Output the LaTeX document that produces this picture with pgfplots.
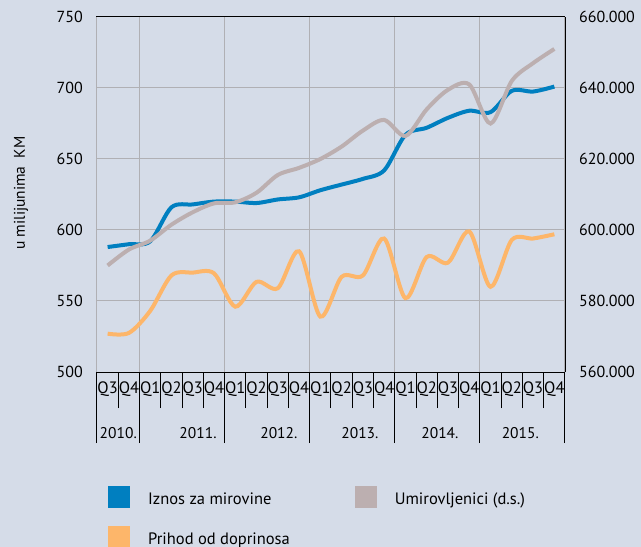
\documentclass[border=0pt]{standalone}
\usepackage{pgfplots}
\pgfplotsset{compat=1.18}
\usepackage{fontspec}
\setmainfont{PT Sans}
\definecolor{bgc}{RGB}{213,220,232}
\definecolor{cblue}{RGB}{0,127,192}
\definecolor{cgray}{RGB}{188,175,176}
\definecolor{corange}{RGB}{253,182,106}
\definecolor{cgrid}{RGB}{176,176,180}
\begin{document}
\begin{tikzpicture}[x=1pt,y=1pt]
\fill[bgc] (0,0) rectangle (641,547);
\useasboundingbox (0,0) rectangle (641,547);
\begin{axis}[
  at={(97pt,175pt)}, anchor=south west,
  width=468pt, height=355pt, scale only axis,
  clip=false,
  xmin=0, xmax=22, ymin=500, ymax=750,
  axis line style={black, line width=1pt},
  ytick={500,550,...,750},
  ymajorgrids, grid style={cgrid, line width=1pt},
  ytick style={draw=none},
  tick pos=left,
  tick align=outside,
  xtick={0.5,1.5,...,21.5},
  xticklabels={Q3,Q4,Q1,Q2,Q3,Q4,Q1,Q2,Q3,Q4,Q1,Q2,Q3,Q4,Q1,Q2,Q3,Q4,Q1,Q2,Q3,Q4},
  major tick length=0pt,
  minor xtick={1,3,4,5,7,8,9,11,12,13,15,16,17,19,20,21},
  minor tick length=36pt,
  minor x tick style={black, line width=1pt},
  extra x ticks={0,2,6,10,14,18,22},
  extra x tick labels={},
  extra x tick style={grid=major, major tick length=71pt, tick style={black, line width=1pt}},
  xticklabel style={font=\fontsize{16.5}{19}\selectfont, inner sep=0pt, yshift=-10pt},
  yticklabel style={font=\fontsize{16}{19}\selectfont, inner sep=0pt, xshift=-14pt},
  /pgf/number format/assume math mode=true,
]
\addplot[cblue, line width=4pt, smooth, tension=0.5] coordinates {
(0.5,588) (1.5,590) (2.5,592) (3.5,616) (4.5,618) (5.5,620) (6.5,620) (7.5,619)
(8.5,621.5) (9.5,623) (10.5,628) (11.5,632) (12.5,636) (13.5,642) (14.5,667)
(15.5,672) (16.5,679) (17.5,684) (18.5,683) (19.5,698) (20.5,697.5) (21.5,701)};
\addplot[corange, line width=4pt, smooth, tension=0.5] coordinates {
(0.5,527) (1.5,527.5) (2.5,543) (3.5,568) (4.5,570) (5.5,569.5) (6.5,546) (7.5,563.5)
(8.5,559) (9.5,585) (10.5,539) (11.5,567) (12.5,568) (13.5,594) (14.5,552)
(15.5,581) (16.5,577) (17.5,599) (18.5,560) (19.5,593) (20.5,594) (21.5,597)};
\node[font=\fontsize{15.5}{18}\selectfont] at (axis cs:1.0,500) [yshift=-61pt] {2010.};
\node[font=\fontsize{15.5}{18}\selectfont] at (axis cs:4.75,500) [yshift=-61pt] {2011.};
\node[font=\fontsize{15.5}{18}\selectfont] at (axis cs:8.55,500) [yshift=-61pt] {2012.};
\node[font=\fontsize{15.5}{18}\selectfont] at (axis cs:12.36,500) [yshift=-61pt] {2013.};
\node[font=\fontsize{15.5}{18}\selectfont] at (axis cs:16.12,500) [yshift=-61pt] {2014.};
\node[font=\fontsize{15.5}{18}\selectfont] at (axis cs:19.9,500) [yshift=-61pt] {2015.};
\end{axis}
\begin{axis}[
  at={(97pt,175pt)}, anchor=south west,
  width=468pt, height=355pt, scale only axis,
  xmin=0, xmax=22, ymin=560, ymax=660,
  axis x line=none, axis y line*=right,
  axis line style={black, line width=1pt},
  ytick={560,580,...,660},
  yticklabels={560.000,580.000,600.000,620.000,640.000,660.000},
  ytick style={draw=none},
  yticklabel style={font=\fontsize{16}{19}\selectfont, inner sep=0pt, xshift=14pt},
  legend columns=2,
  legend cell align=left,
  legend style={at={(axis description cs:0.0235,-0.321)}, anchor=north west,
    draw=none, fill=none, inner sep=0pt, row sep=18pt,
    font=\fontsize{16.5}{19}\selectfont,
    nodes={inner sep=0pt},
    /tikz/every odd column/.style={column sep=18pt},
    /tikz/every even column/.style={column sep=65pt}},
  legend image code/.code={\fill[#1] (0pt,-9pt) rectangle (22pt,13pt);},
]
\addlegendimage{fill=cblue, draw=none}
\addlegendentry{Iznos za mirovine}
\addlegendimage{fill=cgray, draw=none}
\addlegendentry{Umirovljenici (d.s.)}
\addlegendimage{fill=corange, draw=none}
\addlegendentry{Prihod od doprinosa}
\addplot[cgray, line width=4pt, smooth, tension=0.5, forget plot] coordinates {
(0.5,590) (1.5,594.5) (2.5,597) (3.5,601.5) (4.5,605) (5.5,607.5) (6.5,607.8) (7.5,610.5)
(8.5,615.5) (9.5,617.5) (10.5,620) (11.5,623.5) (12.5,628) (13.5,631) (14.5,626.5)
(15.5,634) (16.5,639.5) (17.5,641) (18.5,630) (19.5,642) (20.5,647) (21.5,651)};
\end{axis}
\node[rotate=90, font=\fontsize{15.5}{18}\selectfont] at (21,354) {u milijunima\ \ KM};
\end{tikzpicture}
\end{document}
